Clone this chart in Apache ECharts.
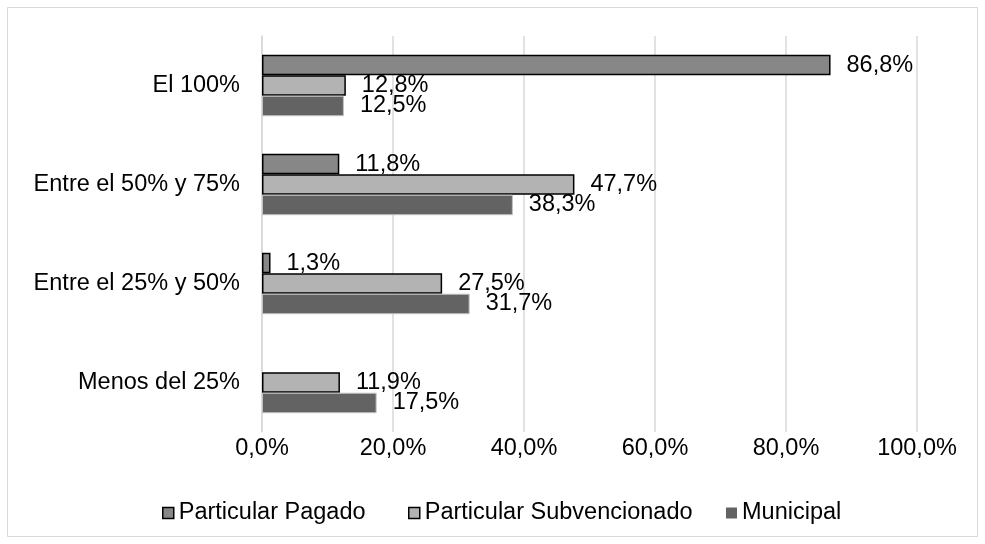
<!DOCTYPE html>
<html>
<head>
<meta charset="utf-8">
<script src="https://cdn.jsdelivr.net/npm/echarts@6/dist/echarts.min.js"></script>
<style>
  html, body { margin: 0; padding: 0; background: #fff; }
  #chart { width: 985px; height: 544px; }
</style>
</head>
<body>
<div id="chart"></div>
<script>
// Categories (top to bottom) and share of each school type, in percent
const categories = ['El 100%', 'Entre el 50% y 75%', 'Entre el 25% y 50%', 'Menos del 25%'];
const seriesNames = ['Particular Pagado', 'Particular Subvencionado', 'Municipal'];
const pagado = [86.8, 11.8, 1.3, null];
const subvencionado = [12.8, 47.7, 27.5, 11.9];
const municipal = [12.5, 38.3, 31.7, 17.5];
const xTicks = [0, 20, 40, 60, 80, 100];

const FONT = '"Liberation Sans", Arial, sans-serif';
const FS = 23.5;
const fmt = v => v.toFixed(1).replace('.', ',') + '%';

// fill / outline per series
const fills = ['#878787', '#b3b3b3', '#636363'];
const outlines = ['#000', '#000', '#c0c0c0'];
const outlineWidths = [1.5, 1.5, 1];

const chart = echarts.init(document.getElementById('chart'), null, { renderer: 'canvas' });

function barSeries(i, data) {
  return {
    name: seriesNames[i],
    type: 'bar',
    data: data,
    barGap: '0%',
    barCategoryGap: '38%',
    itemStyle: { color: fills[i], borderColor: outlines[i], borderWidth: outlineWidths[i] },
    label: {
      show: true,
      position: 'right',
      distance: 16,
      color: '#000',
      fontFamily: FONT,
      fontSize: FS,
      formatter: p => (p.value == null ? '' : fmt(p.value))
    },
    emphasis: { disabled: true }
  };
}

// one legend block per series so each entry sits at its own spot
const legendLefts = [162, 408, 726];
const legends = seriesNames.map((name, i) => ({
  data: [name],
  left: legendLefts[i],
  top: 501,
  padding: 0,
  icon: 'rect',
  itemWidth: 11,
  itemHeight: 11,
  itemTextGap: 3,
  itemStyle: {
    color: fills[i],
    borderColor: i === 2 ? fills[i] : '#000',
    borderWidth: i === 2 ? 0 : 1.5
  },
  textStyle: { color: '#000', fontSize: FS, fontFamily: FONT },
  selectedMode: false
}));

chart.setOption({
  animation: false,
  backgroundColor: '#fff',
  textStyle: { fontFamily: FONT },
  graphic: [{
    type: 'rect',
    shape: { x: 7.5, y: 7.5, width: 970, height: 529 },
    style: { fill: 'none', stroke: '#d9d9d9', lineWidth: 1 },
    silent: true,
    z: -1
  }],
  grid: { left: 262, right: 68, top: 36, bottom: 112 },
  xAxis: {
    type: 'value',
    min: xTicks[0],
    max: xTicks[xTicks.length - 1],
    interval: 20,
    axisLine: { show: false },
    axisTick: { show: false },
    splitLine: { show: true, lineStyle: { color: '#d9d9d9', width: 1.5 } },
    axisLabel: { color: '#000', fontSize: FS, fontFamily: FONT, margin: 5, formatter: v => fmt(v) }
  },
  yAxis: {
    type: 'category',
    data: categories,
    inverse: true,
    axisLine: { show: true, lineStyle: { color: '#d9d9d9', width: 1.5 } },
    axisTick: { show: false },
    axisLabel: { color: '#000', fontSize: FS, fontFamily: FONT, margin: 22 }
  },
  legend: legends,
  series: [
    barSeries(0, pagado),
    barSeries(1, subvencionado),
    barSeries(2, municipal)
  ]
});
</script>
</body>
</html>
